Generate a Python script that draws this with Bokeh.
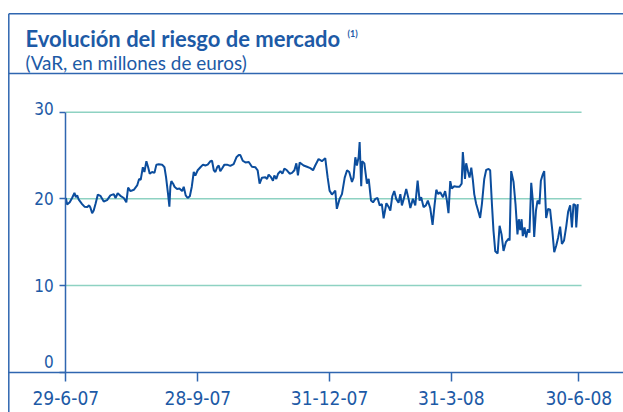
from bokeh.plotting import figure
from bokeh.models import Range1d, FixedTicker, Label
from bokeh.embed import file_html
from bokeh.resources import INLINE

# ---------------- data ----------------
title_text = "Evolución del riesgo de mercado"
note_mark = "(1)"
subtitle_text = "(VaR, en millones de euros)"

# trading-day index since 29-6-07
tick_days = [0, 67.2, 134.2, 196.1, 261]
tick_labels = ["29-6-07", "28-9-07", "31-12-07", "31-3-08", "30-6-08"]

y_ticks = [0, 10, 20, 30]
y_labels = ["0", "10", "20", "30"]

days = [0, 0.7, 2.0, 3.2, 4.4, 5.1, 5.8, 6.6, 8.3, 9.5,
        10.8, 11.9, 12.5, 13.4, 14.2, 15.1, 16.3, 17.6, 19.3, 21.0,
        22.7, 24.4, 25.3, 26.4, 27.8, 29.5, 30.8, 31.7, 32.9, 34.6,
        36.3, 37.3, 38.1, 39.2, 40.0, 41.0, 41.9, 42.7, 43.9, 45.1,
        46.1, 47.3, 49.0, 50.2, 51.0, 52.0, 52.7, 53.2, 53.7, 54.6,
        55.3, 56.6, 57.8, 59.2, 60.0, 61.0, 62.0, 63.1, 64.1, 65.1,
        65.9, 67.1, 68.5, 69.8, 71.0, 72.2, 73.6, 74.4, 75.3, 76.1,
        77.0, 77.8, 78.6, 79.5, 80.7, 82.0, 83.7, 85.4, 86.8, 88.0,
        88.8, 90.0, 91.4, 93.1, 94.7, 96.4, 97.6, 98.6, 99.8, 101.5,
        102.4, 103.2, 104.4, 105.4, 106.1, 107.1, 108.0, 109.2, 110.2, 111.2,
        112.5, 113.9, 115.1, 116.3, 117.3, 118.1, 119.0,
        121.0, 122.7, 124.4, 125.8, 126.9, 128.6, 130.3, 132.0, 133.2, 134.2,
        135.4, 137.1, 137.9, 139.3, 140.5, 141.9, 143.1, 144.2, 145.6, 146.4,
        147.3, 148.1, 149.0, 149.5, 150.3, 150.8, 151.9, 153.2, 154.1, 155.3,
        156.3, 157.5, 158.6, 159.7, 160.8, 161.7, 163.1, 164.2, 165.1, 166.1,
        167.1, 168.1, 169.3, 170.2, 171.0, 172.2, 173.2, 174.4, 175.3, 176.6,
        177.8, 179.0, 180.0, 180.8, 182.0, 183.2, 184.2, 185.4, 186.6, 187.6,
        188.5, 189.5, 190.5, 191.9, 193.0, 193.9, 194.7, 195.6, 196.4, 197.6,
        198.9, 200.3, 201.4, 202.0, 203.1, 203.7, 204.7, 205.4, 206.3, 207.1,
        207.8, 208.8, 210.0, 210.8, 211.7, 212.9, 213.9, 215.1, 215.9, 216.8,
        217.6, 218.5, 219.7, 220.7, 221.7, 222.7, 223.9, 225.3, 225.8, 226.6,
        227.8, 228.8, 229.8, 230.5, 231.2, 231.9, 232.5, 233.4, 234.2, 235.1,
        235.9, 236.8, 237.6, 238.3, 239.2, 240.0, 241.0, 241.7, 242.5, 243.4,
        244.4, 245.4, 246.4, 247.5, 248.5, 249.5, 250.5, 251.5, 252.4, 253.5,
        254.6, 255.6, 256.6, 257.5, 258.3, 259.3, 259.7, 260.5]

var_values = [20.1, 19.35, 19.6, 20.1, 20.7, 20.2, 20.4, 19.9, 19.4, 19.1,
              19.05, 19.25, 19.0, 18.35, 18.65, 19.4, 20.5, 20.35, 19.7, 19.85,
              20.4, 20.55, 20.1, 20.65, 20.35, 20.1, 19.6, 21.3, 20.9, 21.05,
              21.55, 22.3, 22.2, 23.65, 23.1, 24.35, 23.65, 22.9, 23.1, 23.0,
              23.95, 24.0, 23.95, 23.65, 22.5, 20.6, 19.1, 21.4, 22.05, 21.75,
              21.4, 21.15, 21.2, 20.9, 21.4, 20.4, 20.1, 20.3, 21.4, 23.1,
              22.7, 23.3, 23.65, 23.95, 23.85, 23.95, 24.35, 24.4, 23.3, 23.1,
              23.65, 23.85, 23.2, 23.5, 23.95, 23.95, 23.8, 24.0, 24.8, 25.05,
              25.05, 24.4, 24.2, 24.25, 23.7, 23.65, 23.3, 21.75, 22.45, 22.5,
              22.3, 22.8, 22.5, 22.1, 22.7, 22.3, 22.9, 23.2, 22.9, 23.5,
              23.3, 22.9, 23.0, 23.3, 24.1, 22.7, 24.2,
              23.85, 23.7, 23.55, 23.3, 23.85, 24.6, 24.35, 24.7, 22.5, 20.95,
              20.5, 20.95, 18.85, 20.0, 20.55, 22.45, 23.3, 23.1, 21.95, 22.45,
              24.8, 23.85, 24.85, 26.55, 21.45, 24.35, 24.1, 21.75, 22.3, 19.8,
              19.6, 20.0, 20.1, 19.25, 19.4, 17.75, 19.5, 19.1, 18.65, 20.3,
              20.9, 20.0, 19.55, 20.55, 19.25, 20.2, 21.15, 20.0, 18.95, 20.0,
              19.25, 22.1, 19.8, 20.2, 19.05, 19.25, 19.8, 18.95, 17.0, 19.25,
              21.05, 20.55, 20.75, 20.2, 20.9, 19.8, 18.35, 22.05, 21.2, 21.45,
              21.4, 21.4, 21.75, 25.4, 22.3, 24.1, 23.1, 22.45, 23.6, 22.2,
              20.55, 19.4, 18.45, 17.8, 19.4, 22.3, 23.35, 23.45, 23.3, 19.4,
              16.3, 13.95, 13.7, 16.9, 15.9, 14.0, 15.0, 15.4, 15.2, 23.2,
              21.95, 19.4, 15.9, 17.65, 16.4, 17.65, 15.7, 16.7, 15.55, 16.5,
              16.1, 21.85, 19.8, 15.6, 18.65, 19.8, 19.4, 22.1, 22.7, 23.2,
              17.8, 18.85, 18.75, 16.4, 13.85, 14.6, 15.55, 16.8, 14.8, 15.2,
              16.8, 18.55, 19.25, 16.7, 19.4, 19.25, 16.7, 19.4]

# ---------------- layout ----------------
W, H = 623, 412
X0 = 65.3                 # canvas px of day 0
PXD = 513.0 / 261.0       # px per trading day
Y0 = 371.7                # canvas px (from top) of value 0
PXV = 260.0 / 30.0        # px per million euros
GRID_END = 262.4
BOX_L, BOX_T, HEAD_B = 8.3, 13.3, 73.0

def dx(cx):
    return (cx - X0) / PXD

def dy(cy):
    return (Y0 - cy) / PXV

TEXT = "#1d5aa6"
AXIS = "#2f66b0"
LINE = "#0b4d9d"
GRID = "#8ed2c2"
TICK_FONT = "DejaVu Sans Condensed, Roboto, sans-serif"

p = figure(width=W, height=H, output_backend="svg", toolbar_location=None,
           x_range=Range1d(dx(0), dx(W)), y_range=Range1d(dy(H), dy(0)),
           min_border=0, min_border_left=0, min_border_right=0,
           min_border_top=0, min_border_bottom=0)
p.outline_line_color = None
p.background_fill_color = "white"
p.border_fill_color = "white"
p.xgrid.visible = False
p.ygrid.visible = False

# box frame (top border, header separator, left border)
p.segment(x0=[dx(BOX_L)] * 2, x1=[dx(W)] * 2, y0=[dy(BOX_T), dy(HEAD_B)],
          y1=[dy(BOX_T), dy(HEAD_B)], line_color=AXIS, line_width=1.5)
p.segment(x0=[dx(BOX_L)], x1=[dx(BOX_L)], y0=[dy(BOX_T)], y1=[dy(H)],
          line_color=AXIS, line_width=1.5)

# grid lines
p.segment(x0=[0] * 3, x1=[GRID_END] * 3, y0=y_ticks[1:], y1=y_ticks[1:],
          line_color=GRID, line_width=1.5)

# data line
p.line(days, var_values, line_color=LINE, line_width=2)

# x axis
xa = p.xaxis[0]
xa.fixed_location = 0
xa.bounds = (dx(BOX_L), dx(W))
xa.ticker = FixedTicker(ticks=tick_days)
xa.major_label_overrides = {t: l for t, l in zip(tick_days, tick_labels)}
xa.minor_tick_line_color = None
xa.major_tick_in = 0
xa.major_tick_out = 9
xa.axis_line_color = AXIS
xa.axis_line_width = 1.5
xa.major_tick_line_color = AXIS
xa.major_tick_line_width = 1.5
xa.major_label_standoff = 10
xa.major_label_text_font = TICK_FONT
xa.major_label_text_font_size = "19px"
xa.major_label_text_color = TEXT

# y axis
ya = p.yaxis[0]
ya.fixed_location = 0
ya.bounds = (0, 30)
ya.ticker = FixedTicker(ticks=y_ticks)
ya.major_label_overrides = {t: "" for t in y_ticks}
ya.minor_tick_line_color = None
ya.major_tick_in = 0
ya.major_tick_out = 6
ya.axis_line_color = AXIS
ya.axis_line_width = 1.5
ya.major_tick_line_color = AXIS
ya.major_tick_line_width = 1.5

p.text(x=[0] * len(y_ticks), y=y_ticks, text=y_labels,
       x_offset=-12, y_offset=[-11, 0, 0, -4],
       text_align="right", text_baseline="middle",
       text_font={"value": TICK_FONT}, text_font_size="17px", text_color=TEXT)

# header texts
p.add_layout(Label(x=dx(25), y=dy(38.3), text=title_text, text_font="Lato",
                   text_font_style="bold", text_font_size="22px",
                   text_color=TEXT, text_baseline="alphabetic"))
p.add_layout(Label(x=dx(347), y=dy(33), text=note_mark, text_font="Lato",
                   text_font_style="bold", text_font_size="9px",
                   text_color=TEXT, text_baseline="alphabetic"))
p.add_layout(Label(x=dx(25), y=dy(61.7), text=subtitle_text, text_font="Lato",
                   text_font_size="18.9px", text_color=TEXT,
                   text_baseline="alphabetic"))

open("out.html", "w").write(file_html(p, INLINE))
